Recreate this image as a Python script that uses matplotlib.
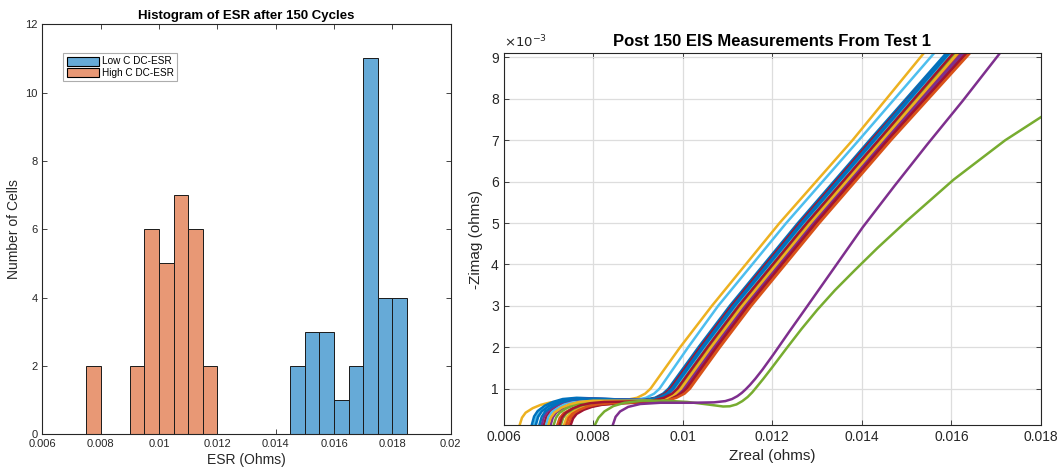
import matplotlib
matplotlib.use('Agg')
import matplotlib.pyplot as plt
from matplotlib.patches import Patch
from matplotlib.ticker import FuncFormatter

plt.rcParams['font.family'] = ['Liberation Sans', 'DejaVu Sans']

# ---- histogram data (bin width 0.0005 ohm) ----
high_c_left_edges = [0.0075, 0.0090, 0.0095, 0.0100, 0.0105, 0.0110, 0.0115]
high_c_counts = [2, 2, 6, 5, 7, 6, 2]
low_c_left_edges = [0.0145, 0.0150, 0.0155, 0.0160, 0.0165, 0.0170, 0.0175, 0.0180]
low_c_counts = [2, 3, 3, 1, 2, 11, 4, 4]
bin_width = 0.0005

# ---- EIS curves, Zreal and -Zimag in milliohm ----
bundle_colors = ['#0072BD', '#D95319', '#A2142F', '#7E2F8E', '#77AC30', '#4DBEEE', '#0072BD', '#D95319',
                 '#EDB120', '#7E2F8E', '#77AC30', '#A2142F', '#0072BD', '#D95319', '#EDB120', '#A2142F']
bundle_zreal = [
    [6.63, 6.68, 6.76, 6.92, 7.10, 7.32, 7.63, 9.08, 9.38, 9.56, 9.68, 10.35, 11.05, 12.57, 14.17, 15.88],
    [7.20, 7.25, 7.33, 7.49, 7.67, 7.89, 8.20, 9.38, 9.68, 9.86, 9.98, 10.65, 11.35, 12.87, 14.47, 16.18],
    [6.90, 6.95, 7.03, 7.19, 7.37, 7.59, 7.90, 9.12, 9.42, 9.60, 9.72, 10.39, 11.09, 12.61, 14.21, 15.93],
    [7.05, 7.10, 7.18, 7.34, 7.52, 7.74, 8.05, 9.46, 9.76, 9.94, 10.06, 10.73, 11.43, 12.95, 14.55, 16.28],
    [7.12, 7.17, 7.25, 7.41, 7.59, 7.81, 8.12, 9.26, 9.56, 9.74, 9.86, 10.53, 11.23, 12.75, 14.35, 16.01],
    [6.95, 7.00, 7.08, 7.24, 7.42, 7.64, 7.95, 9.21, 9.51, 9.69, 9.81, 10.48, 11.18, 12.70, 14.30, 15.97],
    [6.72, 6.77, 6.85, 7.01, 7.19, 7.41, 7.72, 9.16, 9.46, 9.64, 9.76, 10.43, 11.13, 12.65, 14.25, 15.91],
    [7.45, 7.50, 7.58, 7.74, 7.92, 8.14, 8.45, 9.52, 9.82, 10.00, 10.12, 10.79, 11.49, 13.01, 14.61, 16.38],
    [7.35, 7.40, 7.48, 7.64, 7.82, 8.04, 8.35, 9.31, 9.61, 9.79, 9.91, 10.58, 11.28, 12.80, 14.40, 16.10],
    [6.85, 6.90, 6.98, 7.14, 7.32, 7.54, 7.85, 9.41, 9.71, 9.89, 10.01, 10.68, 11.38, 12.90, 14.50, 16.23],
    [7.28, 7.33, 7.41, 7.57, 7.75, 7.97, 8.28, 9.34, 9.64, 9.82, 9.94, 10.61, 11.31, 12.83, 14.43, 16.07],
    [7.50, 7.55, 7.63, 7.79, 7.97, 8.19, 8.50, 9.48, 9.78, 9.96, 10.08, 10.75, 11.45, 12.97, 14.57, 16.33],
    [6.80, 6.85, 6.93, 7.09, 7.27, 7.49, 7.80, 9.19, 9.49, 9.67, 9.79, 10.46, 11.16, 12.68, 14.28, 15.95],
    [7.40, 7.45, 7.53, 7.69, 7.87, 8.09, 8.40, 9.56, 9.86, 10.04, 10.16, 10.83, 11.53, 13.05, 14.65, 16.41],
    [7.00, 7.05, 7.13, 7.29, 7.47, 7.69, 8.00, 9.36, 9.66, 9.84, 9.96, 10.63, 11.33, 12.85, 14.45, 16.14],
    [7.25, 7.30, 7.38, 7.54, 7.72, 7.94, 8.25, 9.28, 9.58, 9.76, 9.88, 10.55, 11.25, 12.77, 14.37, 16.04],
]
bundle_zimag = [
    [0.13, 0.33, 0.46, 0.59, 0.68, 0.75, 0.78, 0.72, 0.78, 0.88, 1, 2, 3, 5, 7, 9.1],
    [0.13, 0.29, 0.40, 0.50, 0.58, 0.63, 0.66, 0.70, 0.78, 0.88, 1, 2, 3, 5, 7, 9.1],
    [0.13, 0.31, 0.44, 0.56, 0.65, 0.71, 0.74, 0.71, 0.78, 0.88, 1, 2, 3, 5, 7, 9.1],
    [0.13, 0.31, 0.43, 0.54, 0.63, 0.69, 0.72, 0.71, 0.78, 0.88, 1, 2, 3, 5, 7, 9.1],
    [0.13, 0.30, 0.42, 0.53, 0.61, 0.67, 0.70, 0.71, 0.78, 0.88, 1, 2, 3, 5, 7, 9.1],
    [0.13, 0.32, 0.44, 0.56, 0.66, 0.72, 0.75, 0.72, 0.78, 0.88, 1, 2, 3, 5, 7, 9.1],
    [0.13, 0.32, 0.45, 0.58, 0.67, 0.74, 0.77, 0.72, 0.78, 0.88, 1, 2, 3, 5, 7, 9.1],
    [0.13, 0.28, 0.39, 0.49, 0.56, 0.61, 0.64, 0.69, 0.78, 0.88, 1, 2, 3, 5, 7, 9.1],
    [0.13, 0.29, 0.40, 0.51, 0.59, 0.64, 0.67, 0.70, 0.78, 0.88, 1, 2, 3, 5, 7, 9.1],
    [0.13, 0.32, 0.45, 0.57, 0.67, 0.73, 0.76, 0.72, 0.78, 0.88, 1, 2, 3, 5, 7, 9.1],
    [0.13, 0.30, 0.41, 0.52, 0.60, 0.65, 0.68, 0.70, 0.78, 0.88, 1, 2, 3, 5, 7, 9.1],
    [0.13, 0.28, 0.39, 0.49, 0.56, 0.61, 0.64, 0.69, 0.78, 0.88, 1, 2, 3, 5, 7, 9.1],
    [0.13, 0.32, 0.45, 0.57, 0.67, 0.73, 0.76, 0.72, 0.78, 0.88, 1, 2, 3, 5, 7, 9.1],
    [0.13, 0.29, 0.39, 0.49, 0.57, 0.62, 0.65, 0.69, 0.78, 0.88, 1, 2, 3, 5, 7, 9.1],
    [0.13, 0.30, 0.42, 0.54, 0.62, 0.68, 0.71, 0.71, 0.78, 0.88, 1, 2, 3, 5, 7, 9.1],
    [0.13, 0.30, 0.41, 0.52, 0.60, 0.65, 0.68, 0.70, 0.78, 0.88, 1, 2, 3, 5, 7, 9.1],
]

yellow_zreal = [6.36, 6.41, 6.49, 6.65, 6.83, 7.05, 7.36, 8.70, 8.98, 9.16, 9.28, 9.94, 10.65, 12.16, 13.79, 15.38]
yellow_zimag = [0.13, 0.30, 0.42, 0.53, 0.61, 0.67, 0.70, 0.72, 0.78, 0.88, 1, 2, 3, 5, 7, 9.1]
cyan_zreal = [6.68, 6.73, 6.81, 6.97, 7.15, 7.37, 7.68, 8.88, 9.18, 9.36, 9.48, 10.12, 10.79, 12.31, 13.93, 15.61]
cyan_zimag = [0.13, 0.31, 0.44, 0.56, 0.65, 0.71, 0.74, 0.71, 0.78, 0.88, 1, 2, 3, 5, 7, 9.1]
purple_zreal = [8.44, 8.50, 8.60, 8.78, 9.05, 9.50, 10.20, 10.70, 10.95, 11.10, 11.22, 11.32, 11.41, 11.50,
                11.62, 11.78, 12.02, 12.38, 12.72, 13.37, 14.02, 14.73, 15.46, 16.25, 17.08]
purple_zimag = [0.13, 0.32, 0.45, 0.56, 0.63, 0.66, 0.66, 0.67, 0.70, 0.75, 0.82, 0.90, 0.99, 1.09,
                1.24, 1.46, 1.82, 2.38, 2.90, 3.90, 4.90, 5.90, 6.90, 7.95, 9.1]
green_zreal = [8.04, 8.12, 8.25, 8.45, 8.70, 9.10, 9.60, 10.10, 10.55, 10.90, 11.05, 11.20, 11.33, 11.45,
               11.55, 11.65, 11.80, 12.00, 12.30, 12.65, 13.00, 13.40, 13.85, 14.35, 15.00, 16.05, 17.20, 18.00]
green_zimag = [0.13, 0.30, 0.45, 0.58, 0.66, 0.71, 0.71, 0.68, 0.62, 0.57, 0.575, 0.62, 0.70, 0.80,
               0.91, 1.04, 1.24, 1.52, 1.95, 2.44, 2.90, 3.38, 3.87, 4.40, 5.05, 6.05, 7.0, 7.56]

axis_col = '#262626'
blue_face = '#66AAD7'
orange_face = '#E89875'

fig = plt.figure(figsize=(10.63, 4.74), dpi=100)

def style_axes(a, fs):
    a.tick_params(direction='in', length=3.5, width=0.6, colors=axis_col, labelsize=fs,
                  top=True, right=True)
    for s in a.spines.values():
        s.set_color(axis_col)
        s.set_linewidth(0.8)

fmt = FuncFormatter(lambda v, p: '%g' % round(v, 6))

# ---- left: histogram ----
ax1 = fig.add_axes([0.0398, 0.0838, 0.3842, 0.865])
ax1.bar(low_c_left_edges, low_c_counts, width=bin_width, align='edge',
        color=blue_face, edgecolor='#1a1a1a', linewidth=0.7)
ax1.bar(high_c_left_edges, high_c_counts, width=bin_width, align='edge',
        color=orange_face, edgecolor='#1a1a1a', linewidth=0.7)
ax1.set_xlim(0.006, 0.02)
ax1.set_ylim(0, 12)
ax1.set_xticks([0.006, 0.008, 0.01, 0.012, 0.014, 0.016, 0.018, 0.02])
ax1.xaxis.set_major_formatter(fmt)
ax1.set_yticks(range(0, 13, 2))
style_axes(ax1, 8)
ax1.set_xlabel('ESR (Ohms)', fontsize=10, color=axis_col, labelpad=3)
ax1.set_ylabel('Number of Cells', fontsize=10, color=axis_col, labelpad=3)
ax1.set_title('Histogram of ESR after 150 Cycles', fontsize=9.5, fontweight='bold', pad=4)
handles = [Patch(facecolor=blue_face, edgecolor='black', linewidth=0.8, label='Low C DC-ESR'),
           Patch(facecolor=orange_face, edgecolor='black', linewidth=0.8, label='High C DC-ESR')]
leg = ax1.legend(handles=handles, loc='upper left', bbox_to_anchor=(0.051, 0.93), borderaxespad=0,
                 fontsize=7.2, handlelength=3.2, handleheight=1.0, labelspacing=0.15,
                 borderpad=0.35, handletextpad=0.3, fancybox=False)
leg.get_frame().set_edgecolor('#999999')
leg.get_frame().set_linewidth(0.8)

# ---- right: EIS curves ----
ax2 = fig.add_axes([0.4738, 0.104, 0.5055, 0.7835])
ax2.grid(True, color='#dddddd', linewidth=0.9)
ax2.set_axisbelow(True)
lw = 1.8
ax2.plot([v * 1e-3 for v in yellow_zreal], yellow_zimag, color='#EDB120', lw=lw)
ax2.plot([v * 1e-3 for v in cyan_zreal], cyan_zimag, color='#4DBEEE', lw=lw)
for xs, ys, c in zip(bundle_zreal, bundle_zimag, bundle_colors):
    ax2.plot([v * 1e-3 for v in xs], ys, color=c, lw=lw)
ax2.plot([v * 1e-3 for v in green_zreal], green_zimag, color='#77AC30', lw=lw)
ax2.plot([v * 1e-3 for v in purple_zreal], purple_zimag, color='#7E2F8E', lw=lw)
ax2.set_xlim(0.006, 0.018)
ax2.set_ylim(0.13, 9.1)
ax2.set_xticks([0.006, 0.008, 0.01, 0.012, 0.014, 0.016, 0.018])
ax2.xaxis.set_major_formatter(fmt)
ax2.set_yticks(range(1, 10))
style_axes(ax2, 10)
ax2.set_xlabel('Zreal (ohms)', fontsize=11, color=axis_col, labelpad=4)
ax2.set_ylabel('-Zimag (ohms)', fontsize=11, color=axis_col, labelpad=6)
ax2.set_title('Post 150 EIS Measurements From Test 1', fontsize=12, fontweight='bold', pad=5)
ax2.text(0.0, 1.008, r'$\times10^{-3}$', transform=ax2.transAxes, fontsize=9.5,
         color=axis_col, ha='left', va='bottom')

fig.savefig('out.png', dpi=100)
